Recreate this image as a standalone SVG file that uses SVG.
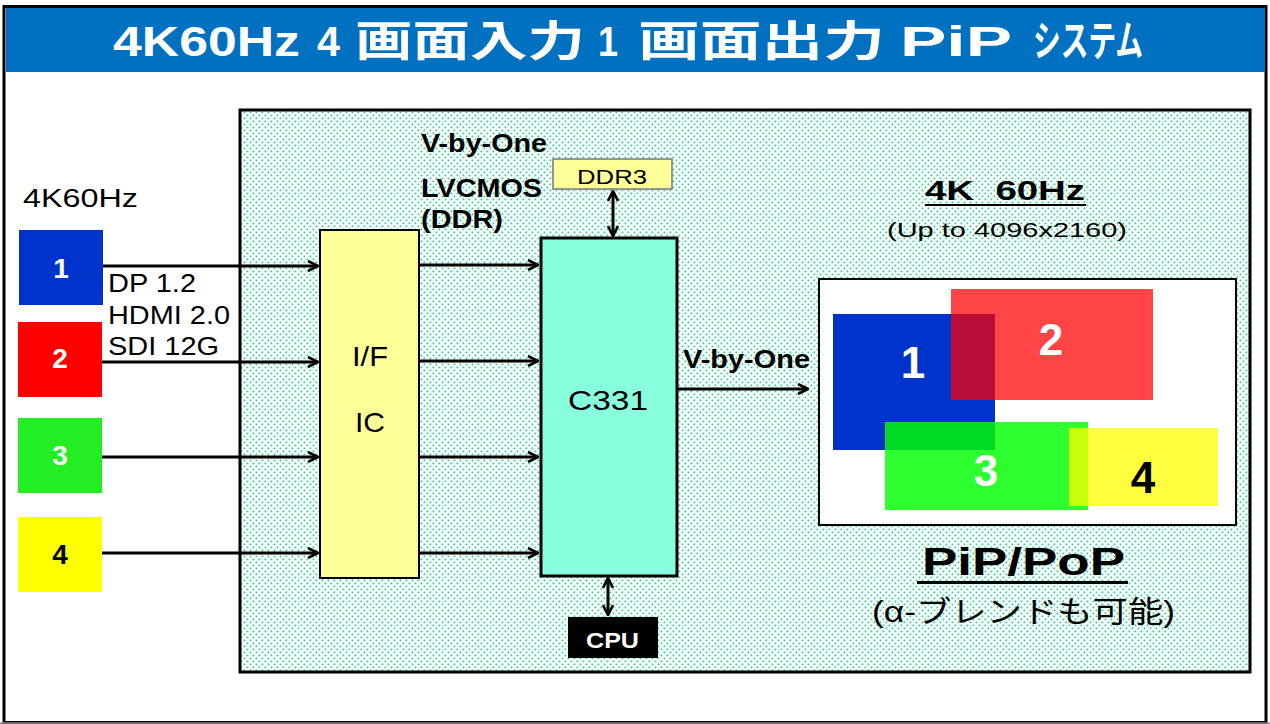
<svg xmlns="http://www.w3.org/2000/svg" width="1270" height="724" viewBox="0 0 1270 724">
<defs>
<pattern id="dots" width="6" height="6" patternUnits="userSpaceOnUse">
<rect width="6" height="6" fill="#ffffff"/>
<rect x="0.5" y="0.5" width="1.8" height="1.8" fill="#2ecf9a"/>
<rect x="3.5" y="3.5" width="1.8" height="1.8" fill="#2ecf9a"/>
</pattern>
<marker id="arr" viewBox="0 0 12 12" refX="11" refY="6" markerWidth="12" markerHeight="12" markerUnits="userSpaceOnUse" orient="auto-start-reverse">
<path d="M1,1 L11,6 L1,11" fill="none" stroke="#000" stroke-width="2.6" stroke-linejoin="miter"/>
</marker>
</defs>
<style>
.sans{font-family:"Liberation Sans",Arial,"Noto Sans CJK JP",sans-serif}
.b{font-weight:bold}
.ln{stroke:#000;stroke-width:3;fill:none}
.wt{fill:#fff}
</style>
<rect x="0" y="0" width="1270" height="724" fill="#fff"/>
<!-- outer frame -->
<rect x="4" y="6.5" width="1262" height="716" fill="#fff" stroke="#000" stroke-width="3"/>
<line x1="0" y1="723" x2="1270" y2="723" stroke="#888" stroke-width="1.5"/>
<g id="title">
<rect x="6" y="8" width="1259" height="64" fill="#0070c0"/>
<g class="sans b wt" font-size="42" lengthAdjust="spacingAndGlyphs">
<text x="113" y="56" textLength="187" lengthAdjust="spacingAndGlyphs">4K60Hz</text>
<text x="317" y="56" textLength="23" lengthAdjust="spacingAndGlyphs">4</text>
<text x="355" y="56" textLength="230" lengthAdjust="spacingAndGlyphs">画面入力</text>
<text x="598" y="56" textLength="20" lengthAdjust="spacingAndGlyphs">1</text>
<text x="638" y="56" textLength="247" lengthAdjust="spacingAndGlyphs">画面出力</text>
<text x="900" y="56" textLength="112" lengthAdjust="spacingAndGlyphs">PiP</text>
<text x="1033" y="56" textLength="110" lengthAdjust="spacingAndGlyphs">システム</text>
</g>
</g>

<!-- inner panel -->
<g id="panel">
<rect x="240" y="110" width="1010" height="562" fill="url(#dots)" stroke="#000" stroke-width="3"/>
</g>

<text x="23" y="207" class="sans" font-size="25" textLength="115" lengthAdjust="spacingAndGlyphs">4K60Hz</text>

<g id="in1"><rect x="19" y="230" width="84" height="75" fill="#0033cc"/><text x="61" y="278" class="sans b wt" font-size="28" text-anchor="middle">1</text></g>
<g id="in2"><rect x="18" y="322" width="84" height="75" fill="#ff0000"/><text x="60" y="368" class="sans b wt" font-size="28" text-anchor="middle">2</text></g>
<g id="in3"><rect x="18" y="418" width="84" height="75" fill="#22ee22"/><text x="60" y="465" class="sans b wt" font-size="28" text-anchor="middle">3</text></g>
<g id="in4"><rect x="18" y="517" width="84" height="75" fill="#ffff00"/><text x="60" y="564" class="sans b" font-size="28" text-anchor="middle">4</text></g>

<text x="108" y="292" class="sans" font-size="25" textLength="88" lengthAdjust="spacingAndGlyphs">DP 1.2</text>
<text x="108" y="324" class="sans" font-size="25" textLength="122" lengthAdjust="spacingAndGlyphs">HDMI 2.0</text>
<text x="108" y="355" class="sans" font-size="25" textLength="111" lengthAdjust="spacingAndGlyphs">SDI 12G</text>

<g id="ific"><rect x="320" y="230" width="99" height="348" fill="#ffff99" stroke="#000" stroke-width="2"/>
<text x="352" y="366" class="sans" font-size="28" textLength="36" lengthAdjust="spacingAndGlyphs">I/F</text>
<text x="355" y="432" class="sans" font-size="28" textLength="30" lengthAdjust="spacingAndGlyphs">IC</text></g>

<g id="c331"><rect x="541" y="238" width="136" height="338" fill="#88ffdd" stroke="#000" stroke-width="3"/>
<text x="568" y="410" class="sans" font-size="28" textLength="80" lengthAdjust="spacingAndGlyphs">C331</text></g>

<g id="ddr3"><rect x="553" y="159" width="119" height="30" fill="#ffff99" stroke="#777" stroke-width="1.5"/>
<text x="577" y="184" class="sans" font-size="21" textLength="70" lengthAdjust="spacingAndGlyphs">DDR3</text></g>

<g id="cpu"><rect x="568" y="617" width="90" height="41" fill="#000"/>
<text x="586" y="648" class="sans b wt" font-size="22" textLength="53" lengthAdjust="spacingAndGlyphs">CPU</text></g>

<text x="421" y="152" class="sans b" font-size="26" textLength="126" lengthAdjust="spacingAndGlyphs">V-by-One</text>
<text x="421" y="197" class="sans b" font-size="26" textLength="121" lengthAdjust="spacingAndGlyphs">LVCMOS</text>
<text x="421" y="228" class="sans b" font-size="26" textLength="82" lengthAdjust="spacingAndGlyphs">(DDR)</text>
<text x="683" y="368" class="sans b" font-size="26" textLength="127" lengthAdjust="spacingAndGlyphs">V-by-One</text>

<g id="connectors">
<line x1="103" y1="266" x2="318" y2="266" class="ln" marker-end="url(#arr)"/>
<line x1="102" y1="362" x2="318" y2="362" class="ln" marker-end="url(#arr)"/>
<line x1="102" y1="457" x2="318" y2="457" class="ln" marker-end="url(#arr)"/>
<line x1="102" y1="553" x2="318" y2="553" class="ln" marker-end="url(#arr)"/>
<line x1="419" y1="265" x2="538" y2="265" class="ln" marker-end="url(#arr)"/>
<line x1="419" y1="361" x2="538" y2="361" class="ln" marker-end="url(#arr)"/>
<line x1="419" y1="457" x2="538" y2="457" class="ln" marker-end="url(#arr)"/>
<line x1="419" y1="553" x2="538" y2="553" class="ln" marker-end="url(#arr)"/>
<line x1="677" y1="389" x2="808" y2="389" class="ln" marker-end="url(#arr)"/>
<line x1="613" y1="191" x2="613" y2="236" class="ln" marker-start="url(#arr)" marker-end="url(#arr)"/>
<line x1="608" y1="578" x2="608" y2="615" class="ln" marker-start="url(#arr)" marker-end="url(#arr)"/>
</g>

<text x="925" y="200" class="sans b" font-size="27" textLength="160" lengthAdjust="spacingAndGlyphs" xml:space="preserve">4K  60Hz</text>
<line x1="925" y1="205" x2="1086" y2="205" stroke="#000" stroke-width="2"/>
<text x="887" y="237" class="sans" font-size="20" textLength="240" lengthAdjust="spacingAndGlyphs">(Up to 4096x2160)</text>

<g id="screen">
<rect x="819" y="279" width="417" height="246" fill="#fff" stroke="#000" stroke-width="2"/>
<rect x="833" y="314" width="162" height="136" fill="#0033cc"/>
<rect x="951" y="289" width="202" height="111" fill="#ff0000" fill-opacity="0.73"/>
<rect x="885" y="422" width="203" height="88" fill="#00ff00" fill-opacity="0.82"/>
<rect x="1069" y="428" width="149" height="78" fill="#ffff00" fill-opacity="0.75"/>
<text x="913" y="378" class="sans b wt" font-size="44" text-anchor="middle">1</text>
<text x="1051" y="355" class="sans b wt" font-size="44" text-anchor="middle">2</text>
<text x="986" y="486" class="sans b wt" font-size="44" text-anchor="middle">3</text>
<text x="1143" y="493" class="sans b" font-size="44" text-anchor="middle">4</text>
</g>

<text x="922" y="575" class="sans b" font-size="38" textLength="203" lengthAdjust="spacingAndGlyphs">PiP/PoP</text>
<line x1="917" y1="582.5" x2="1128" y2="582.5" stroke="#000" stroke-width="3"/>
<text x="872" y="622" class="sans" font-size="30" textLength="303" lengthAdjust="spacingAndGlyphs">(α-ブレンドも可能)</text>
</svg>
